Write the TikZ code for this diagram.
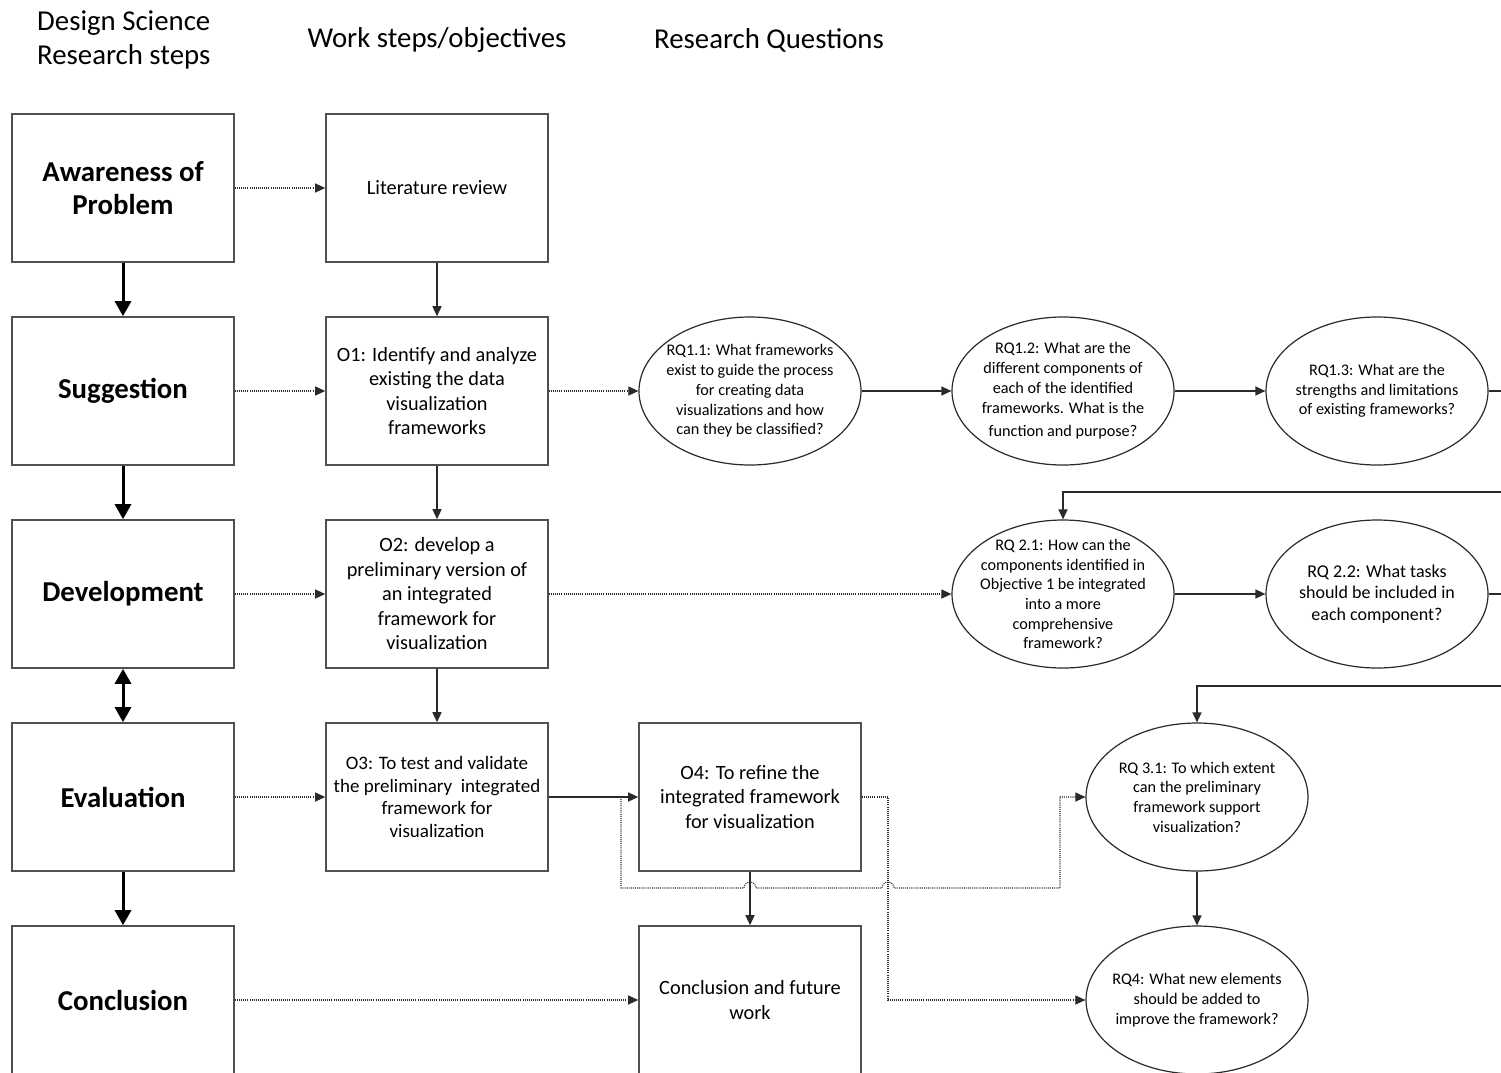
\documentclass[tikz,border=0pt]{standalone}
\usepackage{fontspec}
\setmainfont{Carlito}
\usetikzlibrary{arrows.meta,shapes.geometric}
\definecolor{boxline}{HTML}{505050}
\definecolor{linkline}{HTML}{2A2A2A}

\begin{document}
\begin{tikzpicture}[x=1pt,y=-1pt,
  stepbox/.style={draw=boxline, line width=1.6pt, minimum width=222pt, minimum height=148pt,
    inner sep=0pt, align=center, fill=white},
  dsr/.style={stepbox, font=\fontsize{28.8}{33}\selectfont\bfseries},
  work/.style={stepbox, font=\fontsize{20.3}{24.5}\selectfont},
  rq/.style={ellipse, draw=linkline, line width=1.2pt, minimum width=222pt, minimum height=148pt,
    inner sep=0pt, fill=white},
  rqtext/.style={align=center, font=\fontsize{16.2}{19.7}\selectfont, inner sep=0pt},
  head/.style={font=\fontsize{28.8}{34}\selectfont, inner sep=0pt},
  thick link/.style={line width=3pt, -{Triangle[length=15pt,width=16pt]}},
  both link/.style={line width=3pt, {Triangle[length=15pt,width=16pt]}-{Triangle[length=15pt,width=16pt]}},
  link/.style={draw=linkline, line width=1.4pt, -{Triangle[length=10pt,width=9pt]}},
  dotlink/.style={draw=linkline, line width=1.1pt, dash pattern=on 1pt off 1.1pt,
    -{Triangle[length=10pt,width=9pt]}},
]
\clip (0,0) rectangle (1501,1072);
\fill[white] (0,0) rectangle (1501,1072);

% column headings
\node[head, anchor=west, align=left] (hdsr) at (37,40) {Design Science\\Research steps};
\node[head] (hwork) at (437,40) {Work steps/objectives};
\node[head] (hrq) at (769,40) {Research Questions};

% design science research steps
\node[dsr] (aw)  at (123,188) {Awareness of\\Problem};
\node[dsr] (sug) at (123,391) {Suggestion};
\node[dsr] (dev) at (123,594) {Development};
\node[dsr] (eva) at (123,797) {Evaluation};
\node[dsr] (con) at (123,1000) {Conclusion};

% work steps / objectives
\node[work] (lit) at (437,188) {Literature review};
\node[work] (o1) at (437,391) {O1: Identify and analyze\\existing the data\\visualization\\frameworks};
\node[work] (o2) at (437,594) {O2: develop a\\preliminary version of\\an integrated\\framework for\\visualization};
\node[work, font=\fontsize{19}{22.7}\selectfont] (o3) at (437,797) {O3: To test and validate\\the preliminary\ \ integrated\\framework for\\visualization};
\node[work] (o4) at (750,797) {O4: To refine the\\integrated framework\\for visualization};
\node[work] (cfw) at (750,1000) {Conclusion and future\\work};

% research questions
\node[rq, label={[rqtext]center:RQ1.1: What frameworks\\exist to guide the process\\for creating data\\visualizations and how\\can they be classified?}] (rq11) at (750,391) {};
\node[rq, label={[rqtext]center:RQ1.2: What are the\\different components of\\each of the identified\\frameworks. What is the\\[4pt]function and purpose?}] (rq12) at (1063,391) {};
\node[rq, label={[rqtext]center:RQ1.3: What are the\\strengths and limitations\\of existing frameworks?}] (rq13) at (1377,391) {};
\node[rq, label={[rqtext]center:RQ 2.1: How can the\\components identified in\\Objective 1 be integrated\\into a more\\comprehensive\\framework?}] (rq21) at (1063,594) {};
\node[rq, label={[rqtext, font=\fontsize{18}{21.5}\selectfont]center:RQ 2.2: What tasks\\should be included in\\each component?}] (rq22) at (1377,594) {};
\node[rq, label={[rqtext]center:RQ 3.1: To which extent\\can the preliminary\\framework support\\visualization?}] (rq31) at (1197,797) {};
\node[rq, label={[rqtext]center:RQ4: What new elements\\should be added to\\improve the framework?}] (rq4) at (1197,1000) {};

% flow of the research steps
\draw[thick link] (aw) -- (sug);
\draw[thick link] (sug) -- (dev);
\draw[both link] (dev) -- (eva);
\draw[thick link] (eva) -- (con);

% steps to objectives
\draw[dotlink] (aw) -- (lit);
\draw[dotlink] (sug) -- (o1);
\draw[dotlink] (dev) -- (o2);
\draw[dotlink] (eva) -- (o3);
\draw[dotlink] (con) -- (cfw);

% objectives
\draw[link] (lit) -- (o1);
\draw[link] (o1) -- (o2);
\draw[link] (o2) -- (o3);
\draw[link] (o3) -- (o4);
\draw[link] (o4) -- (cfw);

% objectives to research questions
\draw[dotlink] (o1) -- (rq11);
\draw[dotlink] (o2) -- (rq21);
\draw[link] (rq11) -- (rq12);
\draw[link] (rq12) -- (rq13);
\draw[link] (rq21) -- (rq22);
\draw[link] (rq31) -- (rq4);
\draw[link] (rq13.east) -- (1530,391) -- (1530,492) -| (rq21.north);
\draw[link] (rq22.east) -- (1530,594) -- (1530,686) -| (rq31.north);

% evaluation links with line hops
\coordinate (tap) at (621,797);
\coordinate (o4out) at (888,797);
\draw[dotlink] (tap) -- (621,888) -- (744,888) arc[start angle=180, end angle=0, radius=6pt]
  -- (882,888) arc[start angle=180, end angle=0, radius=6pt] -- (1060,888) -- (1060,797) -- (rq31.west);
\draw[dotlink] (o4.east) -- (o4out) -- (888,1000) -- (rq4.west);
\end{tikzpicture}
\end{document}
